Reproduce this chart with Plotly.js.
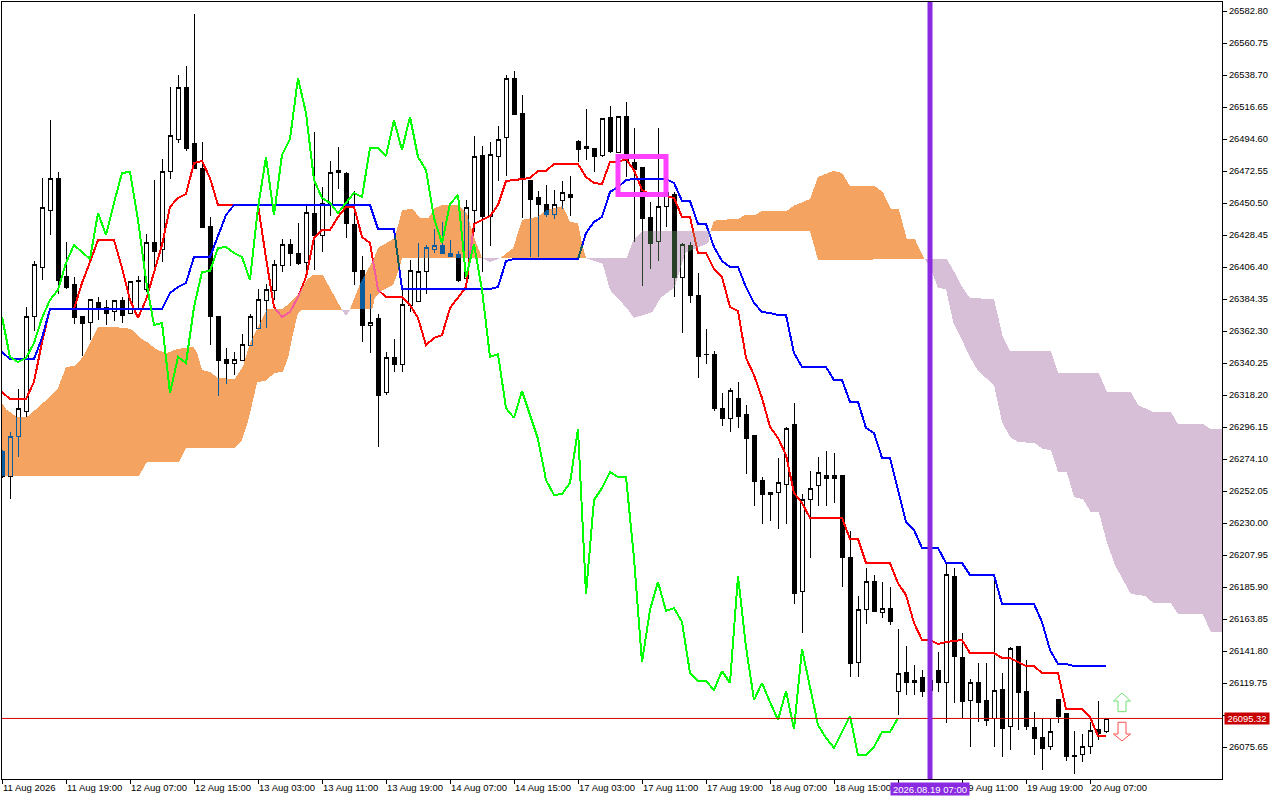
<!DOCTYPE html>
<html><head><meta charset="utf-8">
<script src="https://cdn.plot.ly/plotly-3.0.1.min.js"></script>
<style>
html,body{margin:0;padding:0;background:#fff;}
#chart{width:1280px;height:800px;}
.cartesianlayer path{shape-rendering:crispEdges;}
</style></head><body><div id="chart"></div>
<script>
const openPrices=[26279.6,26261.7,26289.3,26306.5,26372.0,26406.4,26445.0,26467.7,26400.2,26394.0,26372.0,26368.5,26381.6,26378.8,26375.4,26383.0,26374.7,26396.1,26390.6,26423.6,26418.8,26471.9,26494.6,26530.4,26491.2,26474.6,26434.6,26372.6,26343.0,26340.2,26342.3,26352.6,26363.7,26383.0,26389.9,26407.1,26422.2,26416.0,26409.2,26443.6,26427.8,26450.5,26472.6,26470.5,26436.0,26404.3,26365.8,26370.6,26319.6,26343.7,26338.9,26380.2,26382.3,26403.0,26418.8,26420.9,26416.0,26414.7,26398.8,26445.0,26482.9,26441.5,26482.2,26495.3,26536.6,26512.5,26466.3,26454.0,26449.8,26442.9,26451.9,26456.7,26493.2,26489.1,26488.4,26482.9,26509.1,26485.6,26509.8,26478.1,26475.3,26440.2,26424.3,26447.8,26456.7,26399.5,26420.9,26387.1,26346.4,26346.4,26309.2,26301.7,26316.1,26305.1,26290.0,26259.6,26249.3,26250.7,26256.2,26298.2,26182.5,26246.5,26255.5,26262.4,26262.4,26262.4,26205.9,26134.2,26170.1,26190.0,26168.0,26171.4,26114.2,26127.3,26121.8,26123.2,26114.9,26128.7,26119.8,26192.8,26137.0,26108.0,26119.8,26108.0,26095.6,26115.6,26090.1,26144.6,26114.2,26089.4,26081.9,26075.7,26108.7,26098.4,26070.1,26070.8,26075.7,26087.4,26086.0];
const highPrices=[26280.3,26292.7,26322.3,26378.8,26410.5,26467.7,26507.7,26471.9,26423.6,26399.5,26372.0,26384.3,26385.7,26383.7,26383.7,26385.7,26396.1,26400.2,26429.1,26466.3,26480.8,26530.4,26538.7,26544.9,26580.7,26492.5,26440.9,26372.6,26350.6,26347.8,26360.2,26374.0,26391.2,26394.7,26411.2,26425.7,26425.7,26436.7,26448.4,26499.4,26461.5,26479.4,26489.1,26471.9,26458.8,26414.0,26387.8,26374.0,26347.8,26356.8,26390.6,26411.2,26422.9,26421.6,26432.6,26437.4,26425.0,26417.4,26452.6,26496.7,26489.8,26492.5,26503.6,26538.7,26541.5,26524.9,26466.3,26458.8,26462.9,26459.5,26465.7,26469.1,26493.9,26515.3,26488.4,26508.4,26517.3,26509.8,26520.1,26502.2,26475.3,26451.2,26502.2,26462.9,26458.1,26422.9,26423.6,26402.3,26363.7,26348.5,26319.6,26323.0,26327.2,26311.3,26290.0,26261.7,26250.7,26274.8,26296.2,26312.7,26250.0,26265.8,26275.5,26279.6,26278.2,26262.4,26224.5,26179.7,26199.0,26194.2,26189.4,26185.9,26157.0,26145.3,26132.2,26128.7,26132.8,26141.1,26202.4,26199.0,26154.2,26122.5,26133.5,26133.5,26192.8,26126.6,26144.6,26145.3,26135.6,26099.8,26095.6,26095.6,26108.7,26098.4,26086.7,26084.6,26092.9,26107.3,26095.6];
const lowPrices=[26261.0,26246.5,26275.5,26303.0,26362.3,26397.4,26428.5,26387.8,26391.2,26367.1,26345.1,26356.1,26369.9,26366.4,26369.2,26367.8,26374.7,26378.1,26389.2,26402.3,26409.8,26467.0,26491.8,26486.3,26474.6,26433.3,26352.6,26317.5,26325.8,26332.0,26342.3,26352.6,26363.7,26364.4,26383.7,26403.0,26407.1,26407.8,26400.9,26404.3,26416.7,26441.5,26460.2,26426.4,26394.0,26354.7,26347.1,26282.4,26318.2,26334.1,26334.1,26375.4,26382.3,26387.8,26416.0,26416.0,26413.3,26396.1,26398.8,26430.5,26403.0,26420.9,26465.7,26469.1,26511.8,26440.2,26413.3,26413.3,26440.9,26439.5,26446.4,26441.5,26478.8,26480.1,26471.9,26482.2,26485.0,26485.6,26468.4,26423.6,26393.3,26405.0,26410.5,26433.9,26385.7,26360.9,26381.6,26329.9,26339.6,26307.2,26296.9,26292.7,26295.5,26263.8,26241.7,26229.3,26231.4,26225.9,26229.3,26174.2,26154.2,26205.9,26241.7,26241.7,26243.8,26185.9,26123.9,26123.9,26160.4,26168.7,26164.5,26159.7,26097.7,26111.5,26111.5,26110.1,26108.0,26113.5,26092.2,26106.0,26095.6,26075.7,26092.9,26090.1,26075.7,26068.8,26073.6,26087.4,26087.4,26070.1,26059.8,26073.6,26092.2,26066.0,26057.1,26065.3,26070.8,26080.5,26085.3];
const closePrices=[26261.7,26289.3,26309.2,26372.0,26407.8,26447.1,26467.7,26397.4,26392.6,26371.3,26367.8,26384.3,26377.5,26374.7,26383.0,26373.3,26396.1,26397.4,26423.6,26417.4,26471.9,26496.7,26530.4,26488.4,26474.6,26433.3,26372.0,26342.3,26340.2,26343.0,26353.3,26372.0,26383.7,26390.6,26407.8,26422.2,26416.0,26408.5,26444.3,26427.8,26450.5,26471.2,26471.2,26436.7,26403.0,26365.8,26368.5,26318.2,26343.7,26338.9,26380.9,26404.3,26403.6,26419.5,26420.9,26416.0,26413.3,26396.8,26447.1,26482.2,26441.5,26483.6,26494.6,26536.6,26511.8,26467.7,26452.6,26449.8,26442.9,26449.8,26457.4,26454.0,26487.7,26488.4,26482.2,26508.4,26486.3,26509.8,26480.1,26473.9,26439.5,26422.9,26448.4,26457.4,26399.5,26422.2,26387.1,26344.4,26345.8,26308.6,26301.7,26321.0,26303.7,26287.9,26258.3,26249.3,26250.7,26257.6,26294.8,26181.1,26246.5,26254.1,26265.1,26261.0,26261.0,26205.9,26133.5,26170.1,26190.0,26168.7,26171.4,26161.8,26126.6,26120.4,26120.4,26114.2,26121.8,26119.8,26194.2,26137.7,26107.3,26120.4,26106.6,26093.6,26114.9,26088.1,26143.2,26113.5,26090.1,26081.2,26074.3,26086.0,26097.0,26069.4,26069.4,26075.7,26086.7,26085.3,26095.32];

const tenkanBars=[0,1,3,4,5,6,9,10,11,12,14,15,16,17,18,19,20,21,22,23,24,25,26,27,32,33,34,35,36,37,38,39,40,41,42,43,44,45,46,47,48,50,51,52,53,54,55,56,57,58,59,60,61,62,63,64,66,67,68,69,72,73,74,75,76,77,78,79,80,81,82,83,84,85,86,87,88,89,90,91,92,93,94,95,96,97,98,99,100,101,105,106,107,108,111,112,113,114,115,116,117,118,120,121,124,125,126,127,128,129,130,132,133,135,136,137,138];
const tenkanPrices=[26320.3,26315.4,26315.4,26327.2,26354.7,26377.5,26377.5,26395.4,26409.8,26425.0,26425.0,26405.7,26383.7,26371.3,26383.7,26402.3,26421.6,26447.8,26454.0,26456.7,26478.1,26479.4,26467.7,26449.1,26449.1,26412.6,26378.8,26372.0,26375.4,26385.7,26399.5,26426.4,26431.9,26431.9,26440.9,26447.8,26447.8,26427.1,26422.9,26390.6,26385.7,26385.7,26380.2,26371.3,26352.6,26357.5,26359.5,26378.1,26385.7,26392.6,26436.0,26438.8,26441.5,26449.1,26465.7,26466.3,26467.7,26472.6,26472.6,26477.4,26477.4,26468.4,26464.3,26463.6,26478.8,26478.8,26480.8,26473.2,26459.5,26456.7,26456.0,26455.3,26454.0,26440.9,26440.9,26416.0,26416.0,26405.0,26399.5,26378.8,26376.1,26343.7,26332.0,26316.1,26296.2,26288.6,26276.9,26250.7,26243.8,26233.5,26233.5,26219.0,26219.0,26202.4,26202.4,26188.6,26180.4,26161.1,26149.4,26149.4,26146.6,26148.0,26149.4,26140.4,26140.4,26137.0,26137.0,26134.2,26131.5,26131.5,26126.6,26126.6,26101.8,26101.8,26096.3,26083.2,26083.2];

const kijunBars=[0,1,4,5,6,20,21,22,23,24,26,27,28,29,46,47,49,50,61,62,63,64,72,73,74,75,76,77,78,79,83,84,85,86,87,88,89,90,91,92,93,94,95,96,97,98,99,100,103,104,105,106,107,108,109,110,111,112,113,114,115,117,118,120,121,124,125,129,130,131,132,133,134,138];
const kijunPrices=[26347.8,26343.0,26343.0,26357.5,26377.5,26377.5,26388.5,26392.6,26395.4,26413.3,26413.3,26427.1,26442.2,26449.1,26449.1,26432.6,26432.6,26391.2,26391.2,26392.6,26410.5,26411.9,26411.9,26429.8,26437.4,26440.9,26458.1,26461.5,26466.3,26467.0,26467.0,26464.3,26451.9,26451.9,26436.0,26436.0,26420.2,26410.5,26406.4,26406.4,26392.6,26381.6,26375.4,26374.7,26373.3,26373.3,26347.1,26337.5,26337.5,26328.5,26328.5,26313.4,26313.4,26295.5,26292.0,26274.8,26274.8,26252.7,26230.7,26225.2,26212.8,26212.8,26202.4,26202.4,26194.2,26194.2,26174.2,26174.2,26161.8,26142.5,26132.8,26132.8,26131.5,26131.5];

const chikouPrices=[26372.0,26344.4,26340.9,26343.7,26354.0,26371.3,26383.7,26390.6,26409.2,26421.6,26416.7,26411.9,26443.6,26428.5,26450.5,26471.2,26471.9,26438.8,26397.4,26366.4,26367.8,26319.6,26344.4,26340.2,26378.8,26403.0,26403.6,26419.5,26420.2,26416.0,26413.3,26397.4,26447.1,26482.2,26442.2,26483.6,26494.6,26536.6,26512.5,26466.3,26454.0,26450.5,26443.6,26450.5,26457.4,26454.6,26488.4,26488.4,26482.9,26507.7,26487.0,26509.8,26482.2,26473.2,26440.2,26422.9,26449.8,26456.0,26399.5,26422.2,26390.6,26344.4,26346.4,26309.2,26302.4,26321.0,26304.4,26287.9,26259.6,26249.3,26250.0,26257.6,26294.8,26181.1,26245.8,26254.1,26265.1,26261.7,26261.7,26205.9,26134.2,26170.1,26189.4,26169.4,26171.4,26161.8,26126.6,26121.1,26121.1,26114.9,26128.0,26119.8,26193.5,26144.6,26108.0,26119.8,26106.6,26094.3,26114.2,26088.1,26143.2,26116.3,26090.8,26081.9,26075.0,26086.0,26097.0,26070.1,26070.1,26075.7,26086.0,26086.0,26095.6];

const cloudUpX=[0,.6,1.9,3.1,4.4,5.8,7,8,9.1,10.1,12,13.5,15.5,16.3,17.3,18.3,19.4,20.6,21.9,23.9,24.4,25,26,27,29.1,30.1,31,31.9,33.1,35.1,37,38.1,38.8,40.1,42.5,37.5,37,36.4,35.8,35.1,34.1,32.9,31.9,30.8,30,29.1,23,22.1,18.1,17.1,0,null,
 43.5,44.8,46.4,47,49.1,50,51.3,52.3,53.3,54.1,55.1,57,58.1,58.9,60,50,49.6,48.9,47.6,46.6,46.3,43.5,null,
 62.3,63.9,65,66.9,68.1,70.1,71,72,72.6,73,62.3,null,
 88.6,88.9,89.4,92,92.9,94.1,95,98.1,98.9,101,102,103.9,105,106,109.1,110.1,111.1,112.1,113.1,114.1,115.3,102,101,88.6];
const cloudUpY=[26312.7,26307.9,26303.0,26303.0,26309.2,26316.1,26323.0,26337.5,26338.2,26344.4,26365.1,26365.1,26364.4,26363.0,26357.5,26354.0,26349.2,26347.1,26349.9,26351.3,26347.1,26335.4,26334.1,26329.9,26329.2,26337.5,26354.0,26364.4,26377.5,26377.5,26387.1,26397.4,26400.9,26400.9,26376.8,26376.8,26374.7,26360.9,26344.4,26334.1,26333.4,26327.9,26327.2,26301.0,26287.2,26281.7,26281.7,26272.0,26272.0,26262.4,26262.4,null,
 26377.5,26395.4,26411.2,26419.5,26426.4,26445.7,26446.4,26440.2,26440.2,26447.1,26449.1,26449.1,26443.6,26428.5,26412.6,26412.6,26404.3,26394.0,26390.6,26385.0,26377.5,26377.5,null,
 26412.6,26419.5,26438.8,26440.9,26445.7,26448.4,26437.4,26436.7,26420.2,26412.6,26412.6,null,
 26431.2,26437.4,26438.8,26439.5,26442.2,26442.2,26445.0,26445.0,26448.4,26453.3,26468.4,26472.6,26471.2,26462.2,26462.2,26458.1,26446.4,26446.4,26425.7,26425.7,26411.9,26411.2,26431.2,26431.2];
const cloudDownX=[42.5,43,43.5,null,60,61,62.3,null,
 73,78.1,78.9,80,88.6,88.3,85.4,84.1,82.3,81.3,79,78.1,76,75.1,73,null,
 115.4,118.1,119.1,120.1,121,124,125.1,126,131.1,132,137.1,138.1,141.1,142,143.9,146.1,147,150.1,151.1,153,153,151.1,150.1,147,146.1,143.9,142.9,141.1,139.1,138.1,137.1,136.1,135.1,134,133.1,132,131.1,130.1,129.1,127,126,125,124,122,121,120,118.9,118,117,116.3,115.4];
const cloudDownY=[26376.8,26372.6,26376.8,null,26412.6,26409.8,26412.6,null,
 26412.6,26412.6,26425.0,26431.2,26431.2,26422.9,26416.0,26392.6,26385.0,26375.4,26371.3,26378.1,26390.6,26408.5,26412.6,null,
 26411.9,26411.9,26402.3,26391.9,26385.0,26384.3,26358.2,26348.5,26348.5,26333.4,26333.4,26320.3,26320.3,26311.3,26306.5,26306.5,26298.2,26298.2,26294.8,26294.8,26154.9,26154.9,26167.3,26167.3,26174.9,26174.9,26179.7,26181.1,26201.1,26216.9,26237.6,26237.6,26246.5,26247.9,26265.1,26265.1,26280.3,26281.0,26285.1,26285.8,26289.3,26299.6,26325.1,26334.8,26344.4,26356.1,26368.5,26391.2,26391.9,26402.3,26411.9];

const yTickPrices=[26582.80,26560.75,26538.70,26516.65,26494.60,26472.55,26450.50,26428.45,26406.40,26384.35,26362.30,26340.25,26318.20,26296.15,26274.10,26252.05,26230.00,26207.95,26185.90,26163.85,26141.80,26119.75,26097.70,26075.65];
const yTickLabels=["26582.80","26560.75","26538.70","26516.65","26494.60","26472.55","26450.50","26428.45","26406.40","26384.35","26362.30","26340.25","26318.20","26296.15","26274.10","26252.05","26230.00","26207.95","26185.90","26163.85","26141.80","26119.75","","26075.65"];
const xTickBars=[0,8,16,24,32,40,48,56,64,72,80,88,96,104,112,120,128,136];
const xTickLabels=["11 Aug 2026","11 Aug 19:00","12 Aug 07:00","12 Aug 15:00","13 Aug 03:00","13 Aug 11:00","13 Aug 19:00","14 Aug 07:00","14 Aug 15:00","17 Aug 03:00","17 Aug 11:00","17 Aug 19:00","18 Aug 07:00","18 Aug 15:00","","19 Aug 11:00","19 Aug 19:00","20 Aug 07:00"];

const currentPrice=26095.32;
const markerBar=116, markerLabel="2026.08.19 07:00";
const boxBars=[77,83], boxPrices=[26456.4,26482.5];
const arrowBar=140;
const upArrow={tip:26112.9,shoulder:26107.3,tail:26100.0};
const downArrow={tip:26079.8,shoulder:26084.6,tail:26092.7};

const FONT="'Liberation Sans',Arial,sans-serif";
const barIndex=openPrices.map((_,i)=>i);
function arrowPath(a){
  const h=1.06,s=0.5,c=arrowBar;
  return `M ${c} ${a.tip} L ${c+h} ${a.shoulder} L ${c+s} ${a.shoulder} L ${c+s} ${a.tail} L ${c-s} ${a.tail} L ${c-s} ${a.shoulder} L ${c-h} ${a.shoulder} Z`;
}
const traces=[
 {type:'candlestick',x:barIndex,open:openPrices,high:highPrices,low:lowPrices,close:closePrices,
  increasing:{line:{color:'#000',width:1},fillcolor:'rgba(255,255,255,0)'},
  decreasing:{line:{color:'#000',width:1},fillcolor:'#000'},whiskerwidth:0,hoverinfo:'skip'},
 {type:'scatter',mode:'lines',x:tenkanBars,y:tenkanPrices,line:{color:'#FF0000',width:2},hoverinfo:'skip'},
 {type:'scatter',mode:'lines',x:kijunBars,y:kijunPrices,line:{color:'#0000FF',width:2},hoverinfo:'skip'},
 {type:'scatter',mode:'lines',x:cloudUpX,y:cloudUpY,fill:'toself',fillcolor:'#0B5B9F',line:{width:0},hoverinfo:'skip'},
 {type:'scatter',mode:'lines',x:cloudDownX,y:cloudDownY,fill:'toself',fillcolor:'#274027',line:{width:0},hoverinfo:'skip'},
 {type:'scatter',mode:'lines',x:barIndex.slice(0,chikouPrices.length),y:chikouPrices,line:{color:'#00FF00',width:2},hoverinfo:'skip'}
];
const layout={
 width:1280,height:800,margin:{l:2,r:58,t:2,b:21,pad:0},
 paper_bgcolor:'#fff',plot_bgcolor:'#fff',showlegend:false,boxgap:0.5,boxgroupgap:0,
 font:{family:FONT,size:9.5,color:'#000'},
 xaxis:{range:[0,152.5],type:'linear',rangeslider:{visible:false},showgrid:false,zeroline:false,
  showline:true,linecolor:'#000',linewidth:1,mirror:true,
  tickmode:'array',tickvals:xTickBars,ticktext:xTickLabels,ticks:'outside',ticklen:4,tickcolor:'#000',tickwidth:1,
  ticklabelposition:'outside right',tickangle:0,tickfont:{family:FONT,size:9.5,color:'#000'}},
 yaxis:{range:[26053.6,26589.0],side:'right',showgrid:false,zeroline:false,
  showline:true,linecolor:'#000',linewidth:1,mirror:true,
  tickmode:'array',tickvals:yTickPrices,ticktext:yTickLabels,ticks:'outside',ticklen:4,tickcolor:'#000',tickwidth:1,
  tickfont:{family:FONT,size:9.4,color:'#000'}},
 shapes:[
  {type:'path',path:arrowPath(upArrow),line:{color:'#6FE06F',width:1},fillcolor:'#fff',layer:'above'},
  {type:'path',path:arrowPath(downArrow),line:{color:'#FF4D4D',width:1},fillcolor:'#fff',layer:'above'},
  {type:'rect',x0:boxBars[0],x1:boxBars[1],y0:boxPrices[0],y1:boxPrices[1],line:{color:'#FF40FF',width:5},fillcolor:'rgba(0,0,0,0)',layer:'above'},
  {type:'line',xref:'paper',x0:0,x1:1,y0:currentPrice,y1:currentPrice,line:{color:'#D80000',width:1},layer:'above'},
  {type:'line',x0:markerBar,x1:markerBar,yref:'paper',y0:0,y1:1,line:{color:'#8A2BE2',width:5},layer:'above'}
 ],
 annotations:[
  {xref:'paper',x:1,xanchor:'left',xshift:2,yref:'y',y:currentPrice,yanchor:'middle',showarrow:false,
   text:currentPrice.toFixed(2),font:{family:FONT,size:9.4,color:'#fff'},bgcolor:'#C80000',width:44,height:11,borderpad:0},
  {xref:'x',x:markerBar,xanchor:'center',yref:'paper',y:0,yanchor:'top',yshift:-3,showarrow:false,
   text:markerLabel,font:{family:FONT,size:9.5,color:'#fff'},bgcolor:'#8A2BE2',width:78,height:12,borderpad:0}
 ]
};
Plotly.newPlot('chart',traces,layout,{staticPlot:true,displayModeBar:false}).then(function(){
  // the cloud is painted the way the terminal paints it: it inverts whatever lies beneath
  const plot=document.querySelector('.cartesianlayer .scatterlayer').parentNode;
  const back=document.createElementNS('http://www.w3.org/2000/svg','rect');
  back.setAttribute('x',0);back.setAttribute('y',0);back.setAttribute('width',1280);back.setAttribute('height',800);back.setAttribute('fill','#fff');
  plot.insertBefore(back,plot.firstChild);
  document.querySelectorAll('.scatterlayer .js-fill').forEach(p=>{p.style.mixBlendMode='difference';});
});
</script></body></html>
